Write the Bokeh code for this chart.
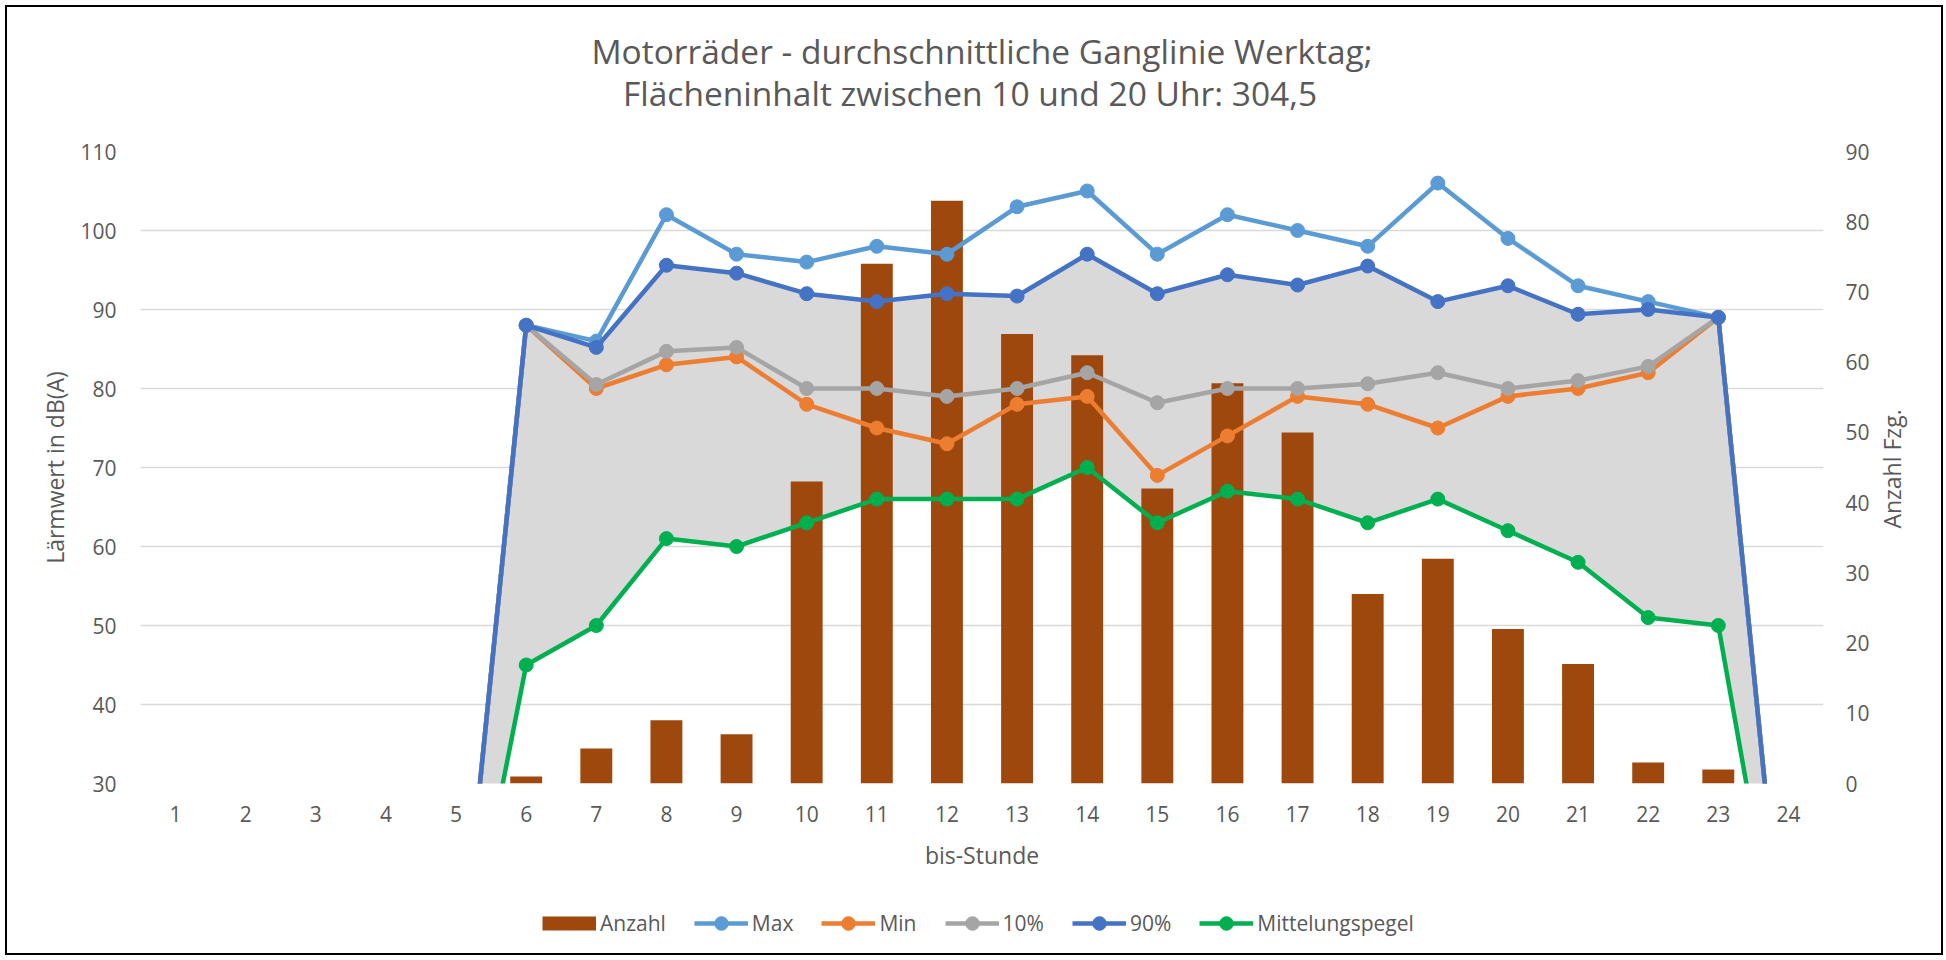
import math
from bokeh.plotting import figure
from bokeh.layouts import column
from bokeh.models import Range1d, LinearAxis, FixedTicker, Legend, LegendItem, Label
from bokeh.embed import file_html
from bokeh.resources import INLINE

# ---------------- data ----------------
hours = list(range(1, 25))
hour_labels = [str(h) for h in hours]
anzahl = [0, 0, 0, 0, 0, 1, 5, 9, 7, 43, 74, 83, 64, 61, 42, 57, 50, 27, 32, 22, 17, 3, 2, 0]
max_db = [0, 0, 0, 0, 0, 88, 86, 102, 97, 96, 98, 97, 103, 105, 97, 102, 100, 98, 106, 99, 93, 91, 89, 0]
min_db = [0, 0, 0, 0, 0, 88, 80, 83, 84, 78, 75, 73, 78, 79, 69, 74, 79, 78, 75, 79, 80, 82, 89, 0]
p10_db = [0, 0, 0, 0, 0, 88, 80.5, 84.7, 85.2, 80, 80, 79, 80, 82, 78.2, 80, 80, 80.6, 82, 80, 81, 82.8, 89, 0]
p90_db = [0, 0, 0, 0, 0, 88, 85.2, 95.6, 94.6, 92, 91, 92, 91.7, 97, 92, 94.4, 93.1, 95.5, 91, 93, 89.4, 90, 89, 0]
mittel_db = [0, 0, 0, 0, 0, 45, 50, 61, 60, 63, 66, 66, 66, 70, 63, 67, 66, 63, 66, 62, 58, 51, 50, 0]
left_ticks = list(range(30, 111, 10))
right_ticks = list(range(0, 91, 10))

title_1 = "Motorräder - durchschnittliche Ganglinie Werktag;"
title_2 = "Flächeninhalt zwischen 10 und 20 Uhr: 304,5"
x_title = "bis-Stunde"
y_title = "Lärmwert in dB(A)"
y2_title = "Anzahl Fzg."

FONT = "Open Sans"
TXT = "#595959"
BAR_COL = "#9E480E"
series = [
    ("Max", max_db, "#5B9BD5"),
    ("Min", min_db, "#ED7D31"),
    ("10%", p10_db, "#A5A5A5"),
    ("90%", p90_db, "#4472C4"),
    ("Mittelungspegel", mittel_db, "#00B050"),
]

W = 1934
H_TOP, H_MAIN, H_LEG = 124, 762, 60
X_RANGE = (0.5, 24.5)
MB_LEFT, MB_RIGHT = 133, 118


def strip(h):
    f = figure(width=W, height=h, output_backend="svg", toolbar_location=None,
               x_range=Range1d(*X_RANGE), y_range=Range1d(0, h),
               min_border_left=MB_LEFT, min_border_right=MB_RIGHT,
               min_border_top=0, min_border_bottom=0)
    f.title = None
    f.axis.visible = False
    f.grid.visible = False
    f.outline_line_color = None
    f.border_fill_color = "white"
    f.background_fill_color = "white"
    return f


# ---------------- title strip ----------------
p0 = strip(H_TOP)
x_mid = (X_RANGE[0] + X_RANGE[1]) / 2
for txt, yy, xo in ((title_1, 81, 0), (title_2, 39, -12)):
    p0.add_layout(Label(x=x_mid, y=yy, x_offset=xo, text=txt, text_align="center",
                        text_baseline="middle", text_font=FONT, text_font_size="33.5px",
                        text_color=TXT))

# ---------------- main chart ----------------
p = figure(width=W, height=H_MAIN, output_backend="svg", toolbar_location=None,
           x_range=Range1d(*X_RANGE), y_range=Range1d(30, 110),
           min_border_left=MB_LEFT, min_border_right=MB_RIGHT,
           min_border_top=20, min_border_bottom=110)
p.title = None
p.extra_y_ranges = {"cnt": Range1d(0, 90)}
p.outline_line_color = None
p.background_fill_color = "white"
p.border_fill_color = "white"

# grey band between Mittelungspegel and 90%
p.varea(x=hours, y1=mittel_db, y2=p90_db, fill_color="#D9D9D9")

p.vbar(x=hours, top=anzahl, width=0.455, y_range_name="cnt",
       fill_color=BAR_COL, line_color=None)

for name, vals, col in series:
    p.line(hours, vals, line_width=4.5, line_color=col, line_join="round")
    p.scatter(hours, vals, size=14, fill_color=col, line_color=col)

yl = p.left[0]
yl.ticker = FixedTicker(ticks=left_ticks)
p.ygrid.ticker = FixedTicker(ticks=left_ticks)
p.ygrid.grid_line_color = "#D9D9D9"
p.ygrid.grid_line_width = 1.5
p.xgrid.visible = False

xa = p.below[0]
xa.ticker = FixedTicker(ticks=hours)
xa.major_label_overrides = {h: l for h, l in zip(hours, hour_labels)}
xa.axis_label = x_title
yl.axis_label = y_title

yr = LinearAxis(y_range_name="cnt", ticker=FixedTicker(ticks=right_ticks))
p.add_layout(yr, "right")
# right axis title, reading bottom-to-top like the reference (centred on the frame)
y2_pos = 45 - 8.7
yr2 = LinearAxis(y_range_name="cnt", ticker=FixedTicker(ticks=[y2_pos]),
                 major_label_overrides={y2_pos: y2_title},
                 major_label_orientation=math.pi / 2)
p.add_layout(yr2, "right")

for ax in (xa, yl, yr, yr2):
    ax.axis_line_color = None
    ax.major_tick_line_color = None
    ax.minor_tick_line_color = None
    ax.major_label_text_font = FONT
    ax.major_label_text_font_size = "21px"
    ax.major_label_text_color = TXT
    ax.axis_label_text_font = FONT
    ax.axis_label_text_font_size = "23px"
    ax.axis_label_text_color = TXT
    ax.axis_label_text_font_style = "normal"
yr2.major_label_text_font_size = "23px"

xa.major_label_standoff = 16
xa.axis_label_standoff = 14
yl.major_label_standoff = 18
yl.axis_label_standoff = 6
yr.major_label_standoff = 16
yr2.major_label_standoff = 14

# ---------------- legend strip ----------------
p2 = strip(H_LEG)
items = []
rb = p2.line([-10, -9], [-10, -10], line_width=14, line_color=BAR_COL, line_cap="butt")
items.append(LegendItem(label="Anzahl", renderers=[rb]))
for name, vals, col in series:
    rl = p2.line([-10, -9], [-10, -10], line_width=4.5, line_color=col)
    rm = p2.scatter([-10], [-10], size=14, fill_color=col, line_color=col)
    items.append(LegendItem(label=name, renderers=[rl, rm]))

legend = Legend(items=items, orientation="horizontal", location=(402, 13.5),
                glyph_width=54, glyph_height=34, label_standoff=4, spacing=28,
                label_text_font=FONT, label_text_font_size="21px", label_text_color=TXT,
                margin=0, padding=0, border_line_color=None, background_fill_alpha=0)
p2.add_layout(legend, "center")

layout = column(p0, p, p2, spacing=0,
                styles={"border": "2px solid black", "margin": "5px 0 0 5px"})

open("out.html", "w").write(file_html(layout, INLINE))
